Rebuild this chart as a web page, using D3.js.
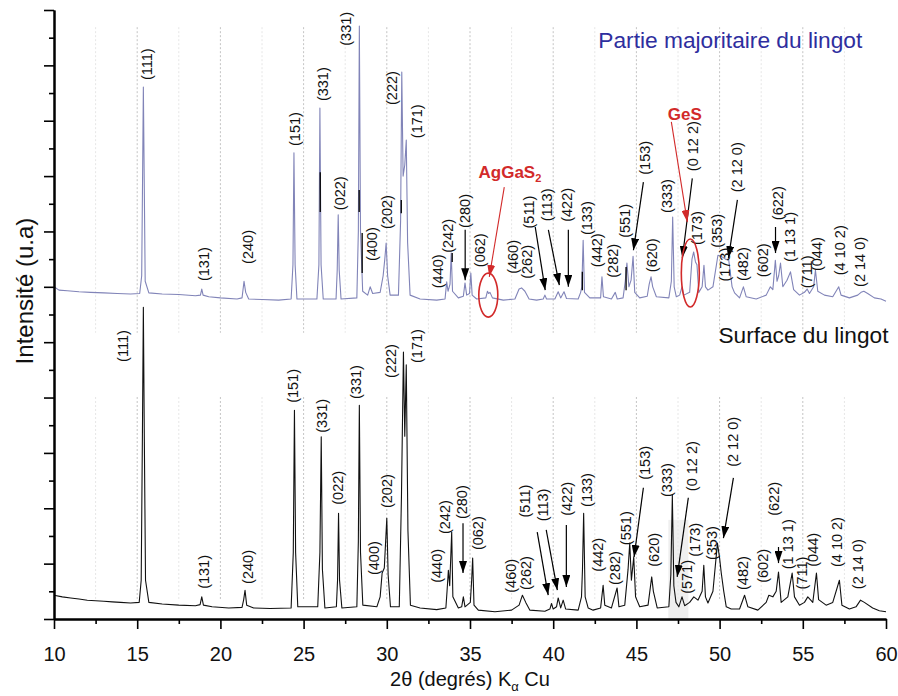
<!DOCTYPE html>
<html><head><meta charset="utf-8">
<script src="https://cdn.jsdelivr.net/npm/d3@7"></script>
<style>
body{margin:0;background:#fff}
svg{display:block}
text{font-family:"Liberation Sans",Arial,Helvetica,sans-serif}
</style>
</head><body>
<svg id="c" width="898" height="696"></svg>
<script>
// ---------- DATA ----------
const xMajorTicks = [10,15,20,25,30,35,40,45,50,55,60];
const xMinorTicks = [12.5,17.5,22.5,27.5,32.5,37.5,42.5,47.5,52.5,57.5];
const yMajorTicks = [0,100,200,300,400,500,600,700,800,900,1000,1100];
const yMinorTicks = [50,150,250,350,450,550,650,750,850,950,1050];

// Partie majoritaire du lingot : [2theta, intensity a.u.]
const topSeries = [[10.0,600],[10.3,594],[10.8,593],[11.5,591],[12.2,590],[13.0,589],[13.8,588],[14.6,587],[15.15,588],[15.27,620],[15.33,820],[15.37,961],[15.42,800],[15.48,610],[15.7,589],[16.5,587],[17.5,586],[18.5,584],[18.8,585],[18.88,596],[18.96,585],[19.3,582],[20.0,580],[21.0,578],[21.3,580],[21.42,610],[21.52,590],[21.7,578],[22.5,577],[23.5,576],[24.25,578],[24.36,640],[24.42,842],[24.49,640],[24.6,578],[25.8,578],[25.92,640],[25.98,923],[26.05,640],[26.18,578],[26.95,578],[27.02,630],[27.08,730],[27.14,630],[27.25,578],[28.2,580],[28.29,700],[28.35,1071],[28.42,700],[28.55,592],[28.85,585],[29.0,600],[29.15,588],[29.6,590],[29.78,620],[29.88,650],[29.96,679],[30.05,620],[30.2,585],[30.7,585],[30.83,720],[30.9,988],[30.98,800],[31.08,820],[31.17,865],[31.25,680],[31.4,585],[32.0,578],[33.0,576],[33.5,578],[33.6,609],[33.68,592],[33.8,605],[33.87,661],[33.95,592],[34.3,580],[34.6,583],[34.7,607],[34.8,585],[34.97,588],[35.05,625],[35.13,585],[35.4,578],[35.95,580],[36.05,592],[36.12,588],[36.2,590],[36.35,580],[37.0,576],[37.7,578],[37.95,596],[38.1,598],[38.3,592],[38.55,578],[39.0,576],[39.4,578],[39.5,585],[39.6,578],[40.1,578],[40.3,591],[40.45,580],[40.65,591],[40.8,579],[41.5,578],[41.65,590],[41.72,600],[41.8,684],[41.88,590],[42.2,580],[42.85,580],[42.93,618],[43.02,582],[43.5,578],[43.73,590],[43.85,578],[44.2,580],[44.33,610],[44.43,643],[44.55,600],[44.68,612],[44.8,655],[44.9,590],[45.2,580],[45.65,583],[45.77,605],[45.88,618],[45.98,600],[46.2,582],[46.95,580],[47.1,610],[47.18,726],[47.27,600],[47.4,582],[47.6,585],[47.74,600],[47.85,585],[48.2,590],[48.34,650],[48.44,663],[48.55,645],[48.64,640],[48.75,590],[48.95,600],[49.06,639],[49.15,600],[49.3,594],[49.6,600],[49.9,657],[50.1,655],[50.35,650],[50.55,648],[50.75,600],[50.9,589],[51.2,580],[51.43,600],[51.6,582],[52.2,578],[52.8,585],[53.05,600],[53.2,595],[53.35,648],[53.45,610],[53.55,620],[53.66,643],[53.8,600],[54.05,612],[54.26,627],[54.45,595],[54.8,585],[55.1,590],[55.26,596],[55.4,588],[55.65,600],[55.76,630],[55.9,592],[56.3,585],[56.8,582],[57.16,600],[57.3,585],[57.8,580],[58.3,585],[58.5,590],[58.67,592],[58.9,588],[59.3,580],[59.7,578],[60.0,574]];

// Surface du lingot
const bottomSeries = [[10.0,43],[10.5,40],[11.0,38],[11.5,36],[12.0,34],[12.5,33],[13.0,32],[13.5,31],[14.0,30],[14.6,29],[15.12,30],[15.24,70],[15.31,320],[15.37,563],[15.43,320],[15.5,70],[15.7,30],[16.5,27],[17.5,25],[18.5,24],[18.78,26],[18.88,40],[18.98,25],[19.5,22],[20.5,20],[21.3,21],[21.4,35],[21.48,52],[21.58,25],[22.0,20],[23.0,19],[24.25,20],[24.38,120],[24.45,377],[24.52,120],[24.65,22],[25.85,22],[25.98,120],[26.06,329],[26.13,90],[26.28,20],[26.97,22],[27.04,70],[27.1,191],[27.16,70],[27.3,20],[28.2,22],[28.29,140],[28.35,386],[28.42,120],[28.56,25],[29.4,22],[29.6,40],[29.72,83],[29.85,92],[30.0,182],[30.08,80],[30.22,22],[30.75,22],[30.88,220],[31.0,482],[31.08,330],[31.17,459],[31.27,160],[31.42,25],[32.0,20],[33.0,17],[33.55,20],[33.62,50],[33.7,88],[33.78,60],[33.9,157],[33.97,40],[34.3,20],[34.5,22],[34.6,40],[34.7,22],[35.02,30],[35.1,70],[35.16,110],[35.24,25],[35.5,16],[36.5,13],[37.5,16],[37.95,25],[38.15,43],[38.35,30],[38.6,16],[39.5,14],[39.8,18],[39.9,28],[40.0,18],[40.2,22],[40.3,38],[40.45,20],[40.6,34],[40.75,18],[41.5,16],[41.7,40],[41.76,90],[41.83,191],[41.92,40],[42.1,20],[42.4,16],[42.85,20],[43.0,61],[43.1,25],[43.5,20],[43.84,56],[43.95,22],[44.3,25],[44.5,90],[44.6,137],[44.7,70],[44.84,112],[44.95,40],[45.2,22],[45.7,25],[45.92,76],[46.02,50],[46.25,20],[46.95,22],[47.07,80],[47.16,224],[47.25,60],[47.38,30],[47.55,22],[47.74,40],[47.9,24],[48.2,30],[48.45,40],[48.7,34],[48.95,50],[49.05,97],[49.15,40],[49.3,29],[49.6,50],[49.87,137],[50.0,110],[50.1,83],[50.25,50],[50.4,22],[50.7,18],[51.2,18],[51.5,43],[51.7,22],[52.3,16],[52.8,30],[52.96,43],[53.2,40],[53.4,50],[53.54,85],[53.7,30],[54.1,40],[54.36,83],[54.5,40],[54.8,25],[55.1,30],[55.3,40],[55.6,30],[55.82,83],[55.95,35],[56.4,25],[56.8,30],[57.2,70],[57.35,25],[57.8,18],[58.2,22],[58.47,34],[58.7,30],[59.2,20],[59.6,15],[60.0,13]];

// Miller index labels : [text, 2theta, intensity]
const topLabels = [["(111)",15.59,1002],["(131)",19.02,641],["(240)",21.67,672],["(151)",24.49,885],["(331)",26.18,966],["(022)",27.20,769],["(331)",27.56,1066],["(400)",29.12,677],["(202)",30.02,735],["(222)",30.32,959],["(171)",31.83,899],["(440)",33.09,628],["(242)",33.69,692],["(280)",34.71,737],["(062)",35.62,666],["(460)",37.60,654],["(262)",38.44,645],["(511)",38.56,735],["(113)",39.64,748],["(422)",40.85,748],["(133)",42.05,724],["(442)",42.65,666],["(282)",43.61,647],["(551)",44.34,719],["(153)",45.54,833],["(620)",45.95,657],["(333)",46.86,764],["(0 12 2)",48.42,854],["(173)",48.67,706],["(353)",49.87,701],["(173)",50.35,640],["(2 12 0)",51.07,816],["(482)",51.43,641],["(602)",52.63,648],["(622)",53.48,751],["(1 13 1)",54.26,690],["(711)",55.28,627],["(044)",55.88,659],["(4 10 2)",57.26,666],["(2 14 0)",58.41,645]];
const bottomLabels = [["(111)",14.15,493],["(131)",19.02,85],["(240)",21.67,94],["(151)",24.37,421],["(331)",26.12,367],["(022)",27.08,237],["(331)",28.16,428],["(400)",29.24,110],["(202)",30.02,231],["(222)",30.26,466],["(171)",31.83,493],["(440)",33.03,96],["(242)",33.51,184],["(280)",34.53,211],["(062)",35.50,155],["(460)",37.48,78],["(262)",38.38,83],["(511)",38.32,213],["(113)",39.41,206],["(422)",40.85,217],["(133)",42.05,233],["(442)",42.71,116],["(282)",43.73,92],["(551)",44.40,164],["(153)",45.54,282],["(620)",46.08,125],["(333)",46.86,251],["(0 12 2)",48.36,276],["(571)",48.06,76],["(173)",48.55,143],["(353)",49.57,137],["(2 12 0)",50.83,320],["(482)",51.43,83],["(602)",52.63,96],["(622)",53.24,217],["(1 13 1)",54.14,135],["(711)",54.98,83],["(044)",55.64,125],["(4 10 2)",57.08,139],["(2 14 0)",58.29,99]];

// Arrows : [theta1, I1, theta2, I2]
const topArrows = [[34.71,703,34.71,612],[38.92,708,39.52,594],[39.71,703,40.37,603],[40.91,703,40.91,600],[45.42,789,44.82,666],[48.36,796,47.76,652],[51.07,757,50.53,652],[53.36,708,53.36,661]];
const bottomArrows = [[34.58,173,34.58,83],[39.04,157,39.70,43],[39.58,161,40.25,52],[40.79,170,40.79,58],[45.42,237,44.86,112],[48.12,219,47.45,76],[50.83,255,50.23,146],[53.54,130,53.54,101]];
const phaseArrows = [[37.06,780,36.16,618],[47.10,898,48.06,717]];
// Phase ellipses : [theta, I]
const phaseCenters = [[36.10,585],[48.24,625]];
// short black drop segments in the upper pattern : [theta, I1, I2]
const dropLines = [[26.0,807,735],[28.34,775,735],[28.52,697,625],[30.87,757,733],[33.93,661,645],[41.75,627,594],[44.38,636,594]];
// grid bands [I1, I2]
const gridBands = [[517,1069],[34,401]];

// ---------- CHART ----------
const svg = d3.select("#c");
const x = d3.scaleLinear().domain([10,60]).range([54,886]);
const y = d3.scaleLinear().domain([0,1100]).range([619,10]);

// grid
const grid = svg.append("g");
gridBands.forEach(b=>{
  grid.selectAll(null).data(xMinorTicks.filter(t=>t<60)).enter().append("line")
    .attr("x1",d=>x(d)).attr("x2",d=>x(d)).attr("y1",y(b[1])).attr("y2",y(b[0]))
    .attr("stroke","#e6e6e6").attr("stroke-width",1).attr("stroke-dasharray","2,2");
  grid.selectAll(null).data(xMajorTicks.filter(t=>t>10&&t<60)).enter().append("line")
    .attr("x1",d=>x(d)).attr("x2",d=>x(d)).attr("y1",y(b[1])).attr("y2",y(b[0]))
    .attr("stroke","#c4c4c4").attr("stroke-width",1).attr("stroke-dasharray","2,2");
});

// grey highlight band (bottom, around 47.5)
svg.append("rect").attr("x",x(46.92)).attr("width",x(48.12)-x(46.92))
  .attr("y",y(179)).attr("height",y(0)-y(179)).attr("fill","#e4e4e4").attr("opacity",0.6);

const line = d3.line().x(d=>x(d[0])).y(d=>y(d[1]));
svg.append("path").datum(topSeries).attr("d",line).attr("fill","none")
  .attr("stroke","#8184b8").attr("stroke-width",1.1).attr("stroke-linejoin","round");
svg.append("path").datum(bottomSeries).attr("d",line).attr("fill","none")
  .attr("stroke","#111").attr("stroke-width",1.1).attr("stroke-linejoin","round");

svg.selectAll(".drop").data(dropLines).enter().append("line")
  .attr("x1",d=>x(d[0])).attr("x2",d=>x(d[0])).attr("y1",d=>y(d[1])).attr("y2",d=>y(d[2]))
  .attr("stroke","#000").attr("stroke-width",1.3);

// markers
const defs = svg.append("defs");
[["ah","#000"],["ahr","#d22a2a"]].forEach(([id,c])=>{
  defs.append("marker").attr("id",id).attr("viewBox","0 0 12 8").attr("refX",12).attr("refY",4)
    .attr("markerWidth",12).attr("markerHeight",8).attr("markerUnits","userSpaceOnUse").attr("orient","auto")
    .append("path").attr("d","M0,0 L12,4 L0,8 z").attr("fill",c);
});
svg.selectAll(".arr").data(topArrows.concat(bottomArrows)).enter().append("line")
  .attr("x1",d=>x(d[0])).attr("y1",d=>y(d[1])).attr("x2",d=>x(d[2])).attr("y2",d=>y(d[3]))
  .attr("stroke","#000").attr("stroke-width",1.2).attr("marker-end","url(#ah)");

// labels
const lab = svg.append("g").attr("font-size",14.5).attr("fill","#111");
lab.selectAll("text").data(topLabels.concat(bottomLabels)).enter().append("text")
  .attr("transform",d=>`translate(${x(d[1])},${y(d[2])}) rotate(-90)`)
  .attr("text-anchor","middle").attr("dominant-baseline","central").text(d=>d[0]);

// phases
svg.selectAll(".parr").data(phaseArrows).enter().append("line")
  .attr("x1",d=>x(d[0])).attr("y1",d=>y(d[1])).attr("x2",d=>x(d[2])).attr("y2",d=>y(d[3]))
  .attr("stroke","#d22a2a").attr("stroke-width",1.1).attr("marker-end","url(#ahr)");
svg.append("ellipse").attr("cx",x(phaseCenters[0][0])).attr("cy",y(phaseCenters[0][1])).attr("rx",9.5).attr("ry",22)
  .attr("fill","none").attr("stroke","#d22a2a").attr("stroke-width",1.6);
svg.append("ellipse").attr("cx",x(phaseCenters[1][0])).attr("cy",y(phaseCenters[1][1])).attr("rx",9).attr("ry",34)
  .attr("fill","none").attr("stroke","#d22a2a").attr("stroke-width",1.6);
const ag = svg.append("text").attr("x",x(37.40)).attr("y",y(796)).attr("text-anchor","middle")
  .attr("font-size",17).attr("font-weight","bold").attr("fill","#d22a2a");
ag.append("tspan").text("AgGaS");
ag.append("tspan").attr("font-size",11).attr("dy",4).text("2");
svg.append("text").attr("x",x(47.91)).attr("y",y(901)).attr("text-anchor","middle")
  .attr("font-size",17).attr("font-weight","bold").attr("fill","#d22a2a").text("GeS");

// series names
svg.append("text").attr("x",x(42.71)).attr("y",y(1031)).attr("font-size",22).attr("fill","#2e2e9e")
  .attr("textLength",264).attr("lengthAdjust","spacingAndGlyphs").text("Partie majoritaire du lingot");
svg.append("text").attr("x",x(49.93)).attr("y",y(498)).attr("font-size",22).attr("fill","#111")
  .attr("textLength",170).attr("lengthAdjust","spacingAndGlyphs").text("Surface du lingot");

// axes
const xa = svg.append("g").attr("transform","translate(0,619)");
xa.call(d3.axisBottom(x).tickValues(xMinorTicks).tickSize(5).tickSizeOuter(0).tickFormat(""));
xa.append("g").call(d3.axisBottom(x).tickValues(xMajorTicks).tickSize(10).tickSizeOuter(0).tickPadding(18));
xa.selectAll("text").attr("font-size",20).attr("fill","#111").attr("font-family","Liberation Sans, Arial, sans-serif");
xa.selectAll(".domain").attr("stroke","#000").attr("stroke-width",2);
xa.selectAll(".tick line").attr("stroke","#000").attr("stroke-width",1.6);

const ya = svg.append("g").attr("transform","translate(54,0)");
ya.call(d3.axisLeft(y).tickValues(yMinorTicks).tickSize(5).tickSizeOuter(0).tickFormat(""));
ya.append("g").call(d3.axisLeft(y).tickValues(yMajorTicks).tickSize(10).tickSizeOuter(0).tickFormat(""));
ya.selectAll(".domain").attr("stroke","#000").attr("stroke-width",2);
ya.selectAll(".tick line").attr("stroke","#000").attr("stroke-width",1.6);

// axis titles
const xt = svg.append("text").attr("x",470).attr("y",686).attr("text-anchor","middle").attr("font-size",20).attr("fill","#111");
xt.append("tspan").text("2θ (degrés) K");
xt.append("tspan").attr("font-size",13).attr("dy",5).text("α");
xt.append("tspan").attr("dy",-5).text(" Cu");
svg.append("text").attr("transform","translate(24,291) rotate(-90)").attr("text-anchor","middle")
  .attr("dominant-baseline","central").attr("font-size",24).attr("fill","#111").text("Intensité (u.a)");
</script>
</body></html>
